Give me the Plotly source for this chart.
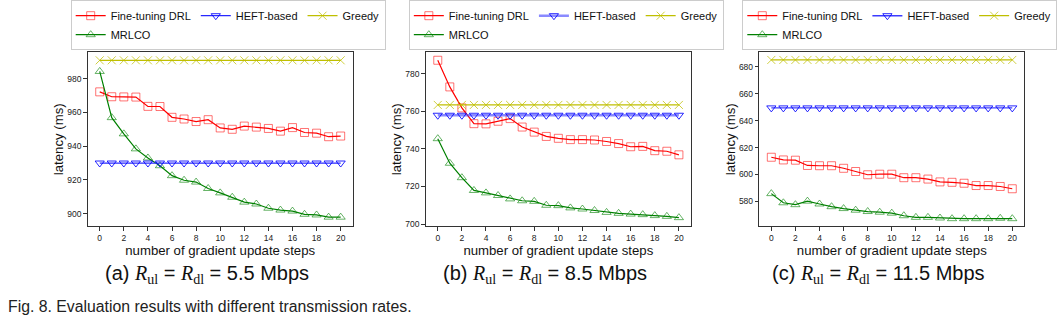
import plotly.graph_objects as go

steps = list(range(21))
x_ticks = [0, 2, 4, 6, 8, 10, 12, 14, 16, 18, 20]

# Panel (a): R_ul = R_dl = 5.5 Mbps
ft_a = [972.2, 969.3, 969.2, 969.1, 963.6, 963.5, 957.1, 956.1, 954.6, 955.7, 950.8,
        950.0, 951.9, 951.3, 950.5, 948.9, 951.0, 948.1, 947.7, 945.6, 946.0]
mrlco_a = [984.3, 956.9, 947.3, 938.4, 933.0, 928.4, 922.5, 919.8, 918.7, 914.9, 912.3,
           909.7, 906.8, 905.7, 903.2, 902.1, 901.5, 899.6, 899.2, 897.9, 897.9]
heft_a = [930.0, 930.0, 930.0, 930.0, 930.0, 930.0, 930.0, 930.0, 930.0, 930.0, 930.0,
          930.0, 930.0, 930.0, 930.0, 930.0, 930.0, 930.0, 930.0, 930.0, 930.0]
greedy_a = [990.9, 990.9, 990.9, 990.9, 990.9, 990.9, 990.9, 990.9, 990.9, 990.9, 990.9,
            990.9, 990.9, 990.9, 990.9, 990.9, 990.9, 990.9, 990.9, 990.9, 990.9]
yticks_a = [900, 920, 940, 960, 980]

# Panel (b): R_ul = R_dl = 8.5 Mbps
ft_b = [787.3, 773.1, 761.9, 753.5, 753.4, 754.8, 756.2, 751.7, 749.0, 746.7, 745.7,
        745.0, 745.0, 744.8, 744.0, 742.9, 741.2, 741.4, 739.1, 738.8, 736.9]
mrlco_b = [745.5, 732.4, 724.7, 717.9, 716.6, 715.2, 713.4, 712.4, 712.1, 710.0, 709.8,
           708.6, 708.0, 707.2, 706.2, 705.7, 705.3, 705.0, 704.5, 704.1, 703.4]
heft_b = [758.0, 758.0, 758.0, 758.0, 758.0, 758.0, 758.0, 758.0, 758.0, 758.0, 758.0,
          758.0, 758.0, 758.0, 758.0, 758.0, 758.0, 758.0, 758.0, 758.0, 758.0]
greedy_b = [763.5, 763.5, 763.5, 763.5, 763.5, 763.5, 763.5, 763.5, 763.5, 763.5, 763.5,
            763.5, 763.5, 763.5, 763.5, 763.5, 763.5, 763.5, 763.5, 763.5, 763.5]
yticks_b = [700, 720, 740, 760, 780]

# Panel (c): R_ul = R_dl = 11.5 Mbps
ft_c = [612.8, 610.8, 610.6, 606.7, 606.5, 606.5, 604.6, 602.2, 599.8, 600.2, 600.2,
        597.6, 597.6, 596.6, 594.5, 594.2, 593.5, 591.8, 591.8, 591.1, 589.4]
mrlco_c = [585.8, 579.0, 577.6, 580.2, 578.1, 576.1, 574.7, 573.5, 572.5, 572.0, 571.3,
           569.4, 568.2, 568.2, 567.7, 567.2, 567.2, 567.2, 567.2, 567.5, 567.2]
heft_c = [649.4, 649.4, 649.4, 649.4, 649.4, 649.4, 649.4, 649.4, 649.4, 649.4, 649.4,
          649.4, 649.4, 649.4, 649.4, 649.4, 649.4, 649.4, 649.4, 649.4, 649.4]
greedy_c = [685.0, 685.0, 685.0, 685.0, 685.0, 685.0, 685.0, 685.0, 685.0, 685.0, 685.0,
            685.0, 685.0, 685.0, 685.0, 685.0, 685.0, 685.0, 685.0, 685.0, 685.0]
yticks_c = [580, 600, 620, 640, 660, 680]

series_names = ["Fine-tuning DRL", "MRLCO", "HEFT-based", "Greedy"]
captions = ["(a)", "(b)", "(c)"]
rates = ["5.5", "8.5", "11.5"]
fig_caption = "Fig. 8. Evaluation results with different transmission rates."

panels = [
    dict(ft=ft_a, mr=mrlco_a, he=heft_a, gr=greedy_a, yt=yticks_a, yr=[892.6, 995.6],
         xd=[0.0824, 0.3315], heft_w=1.2, heft_c="rgb(40,40,255)"),
    dict(ft=ft_b, mr=mrlco_b, he=heft_b, gr=greedy_b, yt=yticks_b, yr=[698.9, 791.5],
         xd=[0.4001, 0.6494], heft_w=2.4, heft_c="rgba(60,60,255,0.6)"),
    dict(ft=ft_c, mr=mrlco_c, he=heft_c, gr=greedy_c, yt=yticks_c, yr=[561.7, 690.6],
         xd=[0.7136, 0.9627], heft_w=1.4, heft_c="rgb(60,60,255)"),
]

FONT = "Liberation Sans, Arial, sans-serif"
fig = go.Figure()
ydom = [0.300, 0.855]

for i, p in enumerate(panels):
    n = "" if i == 0 else str(i + 1)
    xa, ya = "x" + n, "y" + n
    lg = "legend" + n
    styles = [
        (p["ft"], series_names[0], "rgb(255,0,0)", "square-open", "rgba(255,0,0,0.55)", 8, "g1", 1.2),
        (p["mr"], series_names[1], "rgb(0,128,0)", "triangle-up-open", "rgba(0,128,0,0.6)", 8, "g1", 1.2),
        (p["he"], series_names[2], p["heft_c"], "triangle-down-open", "rgba(0,0,255,0.85)", 8, "g2", p["heft_w"]),
        (p["gr"], series_names[3], "rgb(191,191,0)", "x-thin-open", "rgba(191,191,0,0.75)", 8, "g3", 1.2),
    ]
    for vals, name, lc, sym, mc, ms, grp, lw in styles:
        fig.add_trace(go.Scatter(
            x=steps, y=vals, name=name, mode="lines+markers",
            line=dict(color=lc, width=lw),
            marker=dict(symbol=sym, size=ms, color=mc, line=dict(color=mc, width=1)),
            xaxis=xa, yaxis=ya, legend=lg, legendgroup=f"{grp}{i}",
        ))
    axis_common = dict(showline=True, linecolor="#333333", linewidth=1, mirror=True,
                       ticks="outside", ticklen=3.5, tickwidth=0.8, tickcolor="#333333",
                       showgrid=False, zeroline=False,
                       tickfont=dict(family=FONT, size=8.5, color="#222222"))
    fig.update_layout(**{
        "xaxis" + n: dict(domain=p["xd"], range=[-1, 21], tickvals=x_ticks, anchor=ya,
                          title=dict(text="number of gradient update steps",
                                     font=dict(family=FONT, size=13.2, color="#111111"),
                                     standoff=1),
                          **axis_common),
        "yaxis" + n: dict(domain=ydom, range=p["yr"], tickvals=p["yt"], anchor=xa,
                          title=dict(text="latency (ms)",
                                     font=dict(family=FONT, size=13.2, color="#111111"),
                                     standoff=0),
                          **axis_common),
        lg: dict(orientation="h", traceorder="grouped",
                 x=(p["xd"][0] + p["xd"][1]) / 2 + 8 / 1064,
                 xanchor="center", y=0.862, yanchor="bottom",
                 font=dict(family=FONT, size=11, color="#111111"),
                 bgcolor="rgba(255,255,255,0.9)", bordercolor="#cccccc", borderwidth=1,
                 itemwidth=30, tracegroupgap=0),
    })
    cx = (p["xd"][0] + p["xd"][1]) / 2 - 13 / 1064
    cap = (f"{captions[i]} <span style='font-family:Liberation Serif'><i>R</i><sub>ul</sub></span>"
           f" = <span style='font-family:Liberation Serif'><i>R</i><sub>dl</sub></span>"
           f" = {rates[i]} Mbps")
    fig.add_annotation(text=cap, xref="paper", yref="paper", x=cx, y=0.1455,
                       xanchor="center", yanchor="middle", showarrow=False,
                       font=dict(family=FONT, size=20, color="#111111"))

fig.add_annotation(text=fig_caption, xref="paper", yref="paper", x=6 / 1064, y=0.0433,
                   xanchor="left", yanchor="middle", showarrow=False,
                   font=dict(family=FONT, size=15.8, color="#222222"))

fig.update_layout(width=1064, height=323, margin=dict(l=0, r=0, t=0, b=0),
                  plot_bgcolor="white", paper_bgcolor="white", showlegend=True)
fig.write_html("out.html")
